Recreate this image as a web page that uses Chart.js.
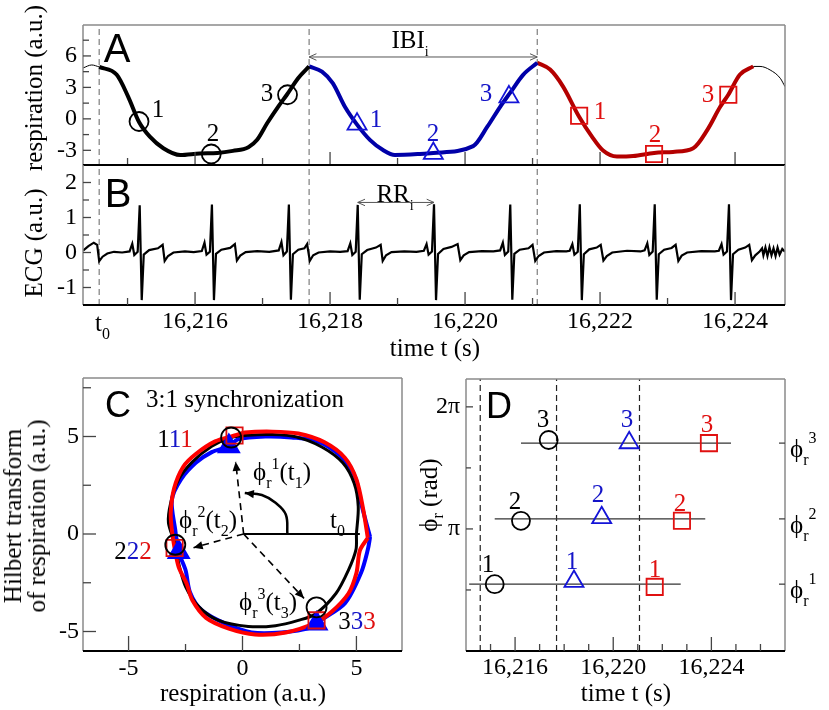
<!DOCTYPE html>
<html>
<head>
<meta charset="utf-8">
<script src="https://cdn.jsdelivr.net/npm/chart.js@4.4.1/dist/chart.umd.min.js"></script>
<style>
  html, body { margin: 0; padding: 0; background: #fff; }
  #page { position: relative; width: 829px; height: 710px; overflow: hidden; }
  canvas { position: absolute; left: 0; top: 0; }
  .t { position: absolute; transform: translate(-50%, -50%); font: 25px 'Liberation Serif', 'DejaVu Serif', serif;
       line-height: 1; white-space: nowrap; color: #000; }
  .l { transform: translate(0, -50%); }
  .v { transform: translate(-50%, -50%) rotate(-90deg); text-align: center; }
  .p { font: 40px 'Liberation Sans', Arial, sans-serif; }
  .p2 { font: 36px 'Liberation Sans', Arial, sans-serif; }
  .sub { font-size: 16px; position: relative; top: 8px; }
  .sup { font-size: 16px; position: relative; top: -11px; }
  .bl { color: #1414c8; }
  .rd { color: #e01010; }
</style>
</head>
<body>
<div id="page">
  <canvas id="chartA" width="829" height="710"></canvas>
  <canvas id="chartB" width="829" height="710"></canvas>
  <canvas id="chartC" width="829" height="710"></canvas>
  <canvas id="chartD" width="829" height="710"></canvas>

  <!-- A / B -->
  <div class="t v" style="left:33px;top:88px">respiration (a.u.)</div>
  <div class="t v" style="left:33px;top:243px">ECG (a.u.)</div>
  <div class="t p" style="left:117px;top:48px">A</div>
  <div class="t p" style="left:118px;top:193px">B</div>
  <div class="t" style="left:410px;top:39px">IBI<span class="sub" style="font-size:14px">i</span></div>
  <div class="t" style="left:395px;top:193px">RR<span class="sub" style="font-size:14px">i</span></div>
  <div class="t" style="left:158px;top:108px">1</div>
  <div class="t" style="left:213px;top:132px">2</div>
  <div class="t" style="left:267px;top:92px">3</div>
  <div class="t bl" style="left:376px;top:118px">1</div>
  <div class="t bl" style="left:433px;top:132px">2</div>
  <div class="t bl" style="left:486px;top:92px">3</div>
  <div class="t rd" style="left:600px;top:110px">1</div>
  <div class="t rd" style="left:655px;top:133px">2</div>
  <div class="t rd" style="left:708px;top:93px">3</div>
  <div class="t l" style="left:95px;top:322px">t<span class="sub">0</span></div>
  <div class="t" style="left:435px;top:347px">time t (s)</div>

  <!-- C -->
  <div class="t p2" style="left:118px;top:405px">C</div>
  <div class="t" style="left:245px;top:398px">3:1 synchronization</div>
  <div class="t" style="left:175px;top:438px">1<span class="bl">1</span><span class="rd">1</span></div>
  <div class="t" style="left:133px;top:550px">2<span class="bl">2</span><span class="rd">2</span></div>
  <div class="t" style="left:357px;top:620px">3<span class="bl">3</span><span class="rd">3</span></div>
  <div class="t l" style="left:253px;top:471px">ϕ<span class="sub">r</span><span class="sup">1</span>(t<span class="sub">1</span>)</div>
  <div class="t l" style="left:179px;top:519px">ϕ<span class="sub">r</span><span class="sup">2</span>(t<span class="sub">2</span>)</div>
  <div class="t l" style="left:239px;top:601px">ϕ<span class="sub">r</span><span class="sup">3</span>(t<span class="sub">3</span>)</div>
  <div class="t l" style="left:330px;top:519px">t<span class="sub">0</span></div>
  <div class="t" style="left:243px;top:692px">respiration (a.u.)</div>
  <div class="t v" style="left:25px;top:516px;line-height:24px">Hilbert transform<br>of respiration (a.u.)</div>

  <!-- D -->
  <div class="t p2" style="left:499px;top:406px">D</div>
  <div class="t" style="left:488px;top:563px">1</div>
  <div class="t" style="left:515px;top:500px">2</div>
  <div class="t" style="left:543px;top:418px">3</div>
  <div class="t bl" style="left:572px;top:560px">1</div>
  <div class="t bl" style="left:598px;top:493px">2</div>
  <div class="t bl" style="left:627px;top:418px">3</div>
  <div class="t rd" style="left:655px;top:568px">1</div>
  <div class="t rd" style="left:680px;top:502px">2</div>
  <div class="t rd" style="left:707px;top:423px">3</div>
  <div class="t l" style="left:790px;top:448px">ϕ<span class="sub">r</span><span class="sup" style="top:-14px">3</span></div>
  <div class="t l" style="left:790px;top:524px">ϕ<span class="sub">r</span><span class="sup" style="top:-14px">2</span></div>
  <div class="t l" style="left:790px;top:589px">ϕ<span class="sub">r</span><span class="sup" style="top:-14px">1</span></div>
  <div class="t v" style="left:428px;top:495px">ϕ<span class="sub" style="top:6px">r</span> (rad)</div>
  <div class="t" style="left:626px;top:692px">time t (s)</div>
</div>

<script>
// ── data: respiration (panel A) ─────────────────────────
const cycleStartT = [16214.58, 16217.69, 16221.07];

const respPreT  = [16214.34, 16214.47, 16214.58];
const respPreV  = [4.85, 5.14, 4.95];
const resp1T = [16214.58, 16214.84, 16215.01, 16215.17, 16215.33, 16215.53, 16215.78, 16216.07, 16216.33,
                16216.56, 16216.79, 16216.92, 16217.07, 16217.23, 16217.36, 16217.53, 16217.69];
const resp1V = [4.95, 4.2, 2.1, -0.3, -1.7, -2.8, -3.45, -3.3, -3.25, -3.05, -2.7, -2.0, -0.4, 1.15, 2.3, 3.9, 5.0];
const resp2T = [16217.69, 16217.88, 16218.04, 16218.22, 16218.40, 16218.59, 16218.79, 16218.96, 16219.33,
                16219.53, 16220.12, 16220.33, 16220.52, 16220.67, 16220.86, 16221.07];
const resp2V = [5.0, 4.5, 3.4, 1.15, -0.55, -2.0, -3.0, -3.45, -3.35, -3.25, -2.6, -0.75, 1.15, 2.5, 4.2, 5.35];
const resp3T = [16221.07, 16221.26, 16221.45, 16221.69, 16221.88, 16222.04, 16222.25, 16222.49, 16222.80,
                16223.08, 16223.38, 16223.59, 16223.78, 16223.90, 16224.07, 16224.27];
const resp3V = [5.35, 4.7, 3.1, 0.2, -1.7, -3.0, -3.6, -3.55, -3.25, -3.15, -2.8, -1.05, 1.15, 2.3, 4.2, 5.0];
const respPostT = [16224.27, 16224.37, 16224.52, 16224.67, 16224.74];
const respPostV = [5.0, 5.0, 4.66, 3.87, 3.07];

// marker times (R peaks) and their respiration values
const circleT = [16215.17, 16216.24, 16217.37];
const triT    = [16218.40, 16219.53, 16220.65];
const squareT = [16221.69, 16222.80, 16223.90];
const circleResp = [-0.25, -3.35, 2.3];
const triResp    = [-0.5, -3.3, 2.1];
const squareResp = [0.3, -3.35, 2.3];

// ── data: ECG (panel B) ─────────────────────────────────
const ecgT = [
  16214.34, 16214.42, 16214.50, 16214.55, 16214.58, 16214.63, 16214.70, 16214.80, 16214.92,
  16215.03, 16215.07, 16215.10, 16215.15, 16215.18, 16215.21, 16215.24, 16215.32, 16215.45, 16215.52, 16215.55, 16215.60, 16215.68, 16215.85, 16215.98,
  16216.10, 16216.14, 16216.17, 16216.22, 16216.25, 16216.28, 16216.31, 16216.39, 16216.52, 16216.59, 16216.62, 16216.67, 16216.75, 16216.92, 16217.10,
  16217.24, 16217.28, 16217.31, 16217.36, 16217.39, 16217.42, 16217.45, 16217.53, 16217.62, 16217.66, 16217.70, 16217.75, 16217.83, 16218.00, 16218.15,
  16218.26, 16218.30, 16218.33, 16218.38, 16218.41, 16218.44, 16218.47, 16218.55, 16218.68, 16218.75, 16218.78, 16218.83, 16218.91, 16219.10, 16219.28,
  16219.39, 16219.43, 16219.46, 16219.51, 16219.54, 16219.57, 16219.60, 16219.68, 16219.80, 16219.89, 16219.93, 16219.98, 16220.06, 16220.25, 16220.42,
  16220.52, 16220.56, 16220.59, 16220.64, 16220.67, 16220.70, 16220.73, 16220.81, 16220.94, 16221.00, 16221.04, 16221.09, 16221.17, 16221.35, 16221.50,
  16221.55, 16221.59, 16221.62, 16221.67, 16221.70, 16221.73, 16221.76, 16221.84, 16221.95, 16222.01, 16222.05, 16222.10, 16222.18, 16222.40, 16222.60,
  16222.66, 16222.70, 16222.73, 16222.78, 16222.81, 16222.84, 16222.87, 16222.95, 16223.06, 16223.12, 16223.16, 16223.21, 16223.29, 16223.50, 16223.70,
  16223.76, 16223.80, 16223.83, 16223.88, 16223.91, 16223.94, 16223.97, 16224.05, 16224.15, 16224.21, 16224.25, 16224.30, 16224.36,
  16224.40, 16224.42, 16224.45, 16224.48, 16224.51, 16224.54, 16224.57, 16224.60, 16224.63, 16224.66, 16224.70, 16224.74
];
const ecgV = [
  0.05, 0.18, 0.28, 0.22, -0.25, -0.12, -0.03, 0.02, 0.00,
  0.03, 0.25, -0.07, 0.02, 1.35, -1.36, -0.06, 0.07, 0.12, 0.22, -0.24, -0.10, 0.00, 0.03, 0.01,
  0.04, 0.28, -0.06, 0.02, 1.37, -1.36, -0.04, 0.08, 0.13, 0.24, -0.23, -0.09, 0.01, 0.04, 0.02,
  0.06, 0.30, -0.08, 0.03, 1.37, -1.35, -0.05, 0.08, 0.12, 0.24, -0.24, -0.08, 0.00, 0.03, 0.02,
  0.04, 0.26, -0.07, 0.02, 1.36, -1.35, -0.05, 0.07, 0.14, 0.22, -0.24, -0.08, 0.01, 0.03, 0.02,
  0.05, 0.24, -0.06, 0.03, 1.38, -1.36, -0.04, 0.10, 0.16, 0.24, -0.22, -0.08, 0.01, 0.04, 0.03,
  0.06, 0.28, -0.07, 0.03, 1.37, -1.35, -0.04, 0.08, 0.12, 0.22, -0.24, -0.10, 0.00, 0.04, 0.03,
  0.05, 0.24, -0.06, 0.02, 1.38, -1.36, -0.05, 0.09, 0.14, 0.22, -0.23, -0.10, 0.00, 0.05, 0.03,
  0.06, 0.26, -0.07, 0.03, 1.38, -1.35, -0.05, 0.08, 0.13, 0.22, -0.24, -0.09, 0.00, 0.04, 0.03,
  0.05, 0.24, -0.06, 0.03, 1.38, -1.36, -0.05, 0.08, 0.14, 0.22, -0.22, -0.08, 0.02,
  0.12, -0.08, 0.14, -0.10, 0.15, -0.08, 0.12, -0.10, 0.14, -0.06, 0.10, 0.02
];
const ibiArrowT = [16217.69, 16221.07];
const ibiArrowV = 5.9;
const rrArrowT  = [16218.41, 16219.54];
const rrArrowV  = 1.43;

// ── data: Hilbert loops (panel C) ───────────────────────
const loopBlackX = [5.0, 5.08, 4.9, 4.4, 3.5, 2.35, 1.27, 0.26, -0.5, -1.35, -2.2, -2.8, -3.15, -3.25,
                    -2.95, -2.8, -2.5, -1.9, -1.05, 0.25, 1.45, 2.45, 3.2, 4.1, 4.65, 4.98, 5.0];
const loopBlackY = [0, 1.4, 2.6, 3.65, 4.45, 4.98, 5.1, 5.07, 4.95, 4.5, 3.7, 2.8, 1.6, 0.57,
                    -0.55, -1.5, -2.7, -3.75, -4.43, -4.74, -4.7, -4.43, -4.1, -3.05, -1.85, -0.8, 0];
const loopBlueX = [5.6, 5.2, 4.95, 4.35, 3.3, 2.15, 1.0, -0.2, -0.6, -1.35, -2.05, -2.7, -3.1, -2.95,
                   -2.8, -2.5, -2.3, -1.8, -0.75, 0.4, 1.7, 3.0, 3.4, 4.5, 5.2, 5.5, 5.6];
const loopBlueY = [-0.15, 1.6, 2.9, 3.95, 4.75, 4.95, 5.0, 4.85, 4.5, 4.2, 3.65, 2.8, 1.75, 0.2,
                   -0.93, -1.85, -3.0, -3.9, -4.6, -5.05, -5.05, -4.8, -4.45, -3.55, -2.0, -0.8, -0.15];
const loopRedX = [5.5, 5.3, 5.0, 4.5, 3.6, 2.45, 1.3, 0.1, -0.35, -1.2, -2.05, -2.6, -3.0, -3.15, -3.1,
                  -2.98, -2.8, -2.45, -2.2, -1.6, -0.6, 0.55, 1.9, 3.2, 3.9, 4.65, 5.0, 5.15, 5.5];
const loopRedY = [-0.2, 1.25, 2.8, 3.9, 4.7, 5.15, 5.25, 5.2, 5.05, 4.75, 4.1, 3.45, 2.35, 1.1, 0.2,
                  -0.72, -1.7, -2.55, -3.4, -4.3, -4.85, -5.15, -5.05, -4.55, -4.0, -3.05, -2.0, -0.85, -0.2];
const circleHx = [-0.5, -2.95, 3.25],  circleHy = [4.95, -0.55, -3.76];
const triHx    = [-0.6, -2.8, 3.25],   triHy    = [4.5, -0.93, -4.6];
const squareHx = [-0.35, -2.98, 3.25], squareHy = [5.05, -0.72, -4.43];
const hilbOrigin = [0.05, 0];
const phaseArrowX = [-0.3, -2.15, 2.7];
const phaseArrowY = [3.7, -0.7, -3.3];
const t0RayEnd = 5.15;
const arcX = [1.97, 1.9, 1.45, 0.85, 0.1];
const arcY = [0, 1.0, 1.6, 2.0, 2.1];

// ── data: phases (panel D) ──────────────────────────────
const linePhase   = [1.72, 3.40, 5.35];
const lineStartT  = [16214.13, 16215.17, 16216.24];
const lineEndT    = [16222.75, 16223.75, 16224.80];
const circlePhase = [1.72, 3.35, 5.43];
const triPhase    = [1.79, 3.43, 5.36];
const squarePhase = [1.65, 3.35, 5.35];

// ── ticks ───────────────────────────────────────────────
const timeMajorAB  = [16216, 16218, 16220, 16222, 16224];
const timeMinorAB  = [16215, 16217, 16219, 16221, 16223];
const timeLabelsAB = ['16,216', '16,218', '16,220', '16,222', '16,224'];
const respMajor = [-3, 0, 3, 6],  respMinor = [-1.5, 1.5, 4.5, 7.5];
const ecgMajor  = [-1, 0, 1, 2],  ecgMinor  = [-0.5, 0.5, 1.5];
const hilbMajor = [-5, 0, 5], hilbMinorX = [-2.5, 2.5], hilbMinorY = [-2.5, 2.5, 7.5];
const timeMajorD  = [16216, 16220, 16224];
const timeMinorD  = [16215, 16217, 16218, 16219, 16221, 16222, 16223, 16225, 16226];
const timeLabelsD = ['16,216', '16,220', '16,224'];
const phaseMajor = [Math.PI, 2 * Math.PI], phaseLabels = ['π', '2π'];
const phaseMinor = [Math.PI / 2, 3 * Math.PI / 2];

// ── helpers ─────────────────────────────────────────────
const SERIF = "'Liberation Serif', 'Times New Roman', serif";
const BLUE_LINE = '#0000a8', RED_LINE = '#b40000';
const BLUE_MARK = '#1414d8', RED_MARK = '#e01010';
const mono = { cubicInterpolationMode: 'monotone' };

const pts = (xs, ys) => xs.map((x, i) => ({ x, y: ys[i] }));
const lab = (vals, texts) => v => { const i = vals.indexOf(v); return i < 0 ? '' : texts[i]; };

function line(data, color, width, extra) {
  return Object.assign({ data, showLine: true, borderColor: color, borderWidth: width,
                         pointRadius: 0, fill: false, tension: 0 }, extra || {});
}
function marks(data, style, color, r, fillColor) {
  return { data, showLine: false, pointStyle: style, pointRadius: r, pointBorderWidth: 1.8,
           pointBorderColor: color, pointBackgroundColor: fillColor || 'rgba(0,0,0,0)',
           borderColor: color, backgroundColor: fillColor || 'rgba(0,0,0,0)' };
}
function vlines(ts, y0, y1, color, width) {
  return ts.map(t => line([{ x: t, y: y0 }, { x: t, y: y1 }], color, width, { borderDash: [6, 4] }));
}

function axis(min, max, tickVals, labelOf, size, pos, pad) {
  return {
    type: 'linear', position: pos, min, max,
    grid: { display: false, drawTicks: false }, border: { display: false },
    afterBuildTicks: s => { s.ticks = tickVals.map(v => ({ value: v })); },
    afterFit: s => { if (pos === 'bottom') s.height = size; else s.width = size; },
    ticks: { autoSkip: false, maxRotation: 0, padding: pad, color: '#000',
             font: { family: SERIF, size: 24 }, callback: v => labelOf(v) }
  };
}

function options(padding, scales) {
  return {
    responsive: false, animation: false, events: [],
    layout: { padding },
    plugins: { legend: { display: false }, tooltip: { enabled: false } },
    scales
  };
}

function head(ctx, from, to, size, filled) {
  const ang = Math.atan2(to[1] - from[1], to[0] - from[0]);
  ctx.beginPath();
  ctx.moveTo(to[0] - size * Math.cos(ang - 0.42), to[1] - size * Math.sin(ang - 0.42));
  ctx.lineTo(to[0], to[1]);
  ctx.lineTo(to[0] - size * Math.cos(ang + 0.42), to[1] - size * Math.sin(ang + 0.42));
  if (filled) { ctx.closePath(); ctx.fill(); } else ctx.stroke();
}

function arrow(ctx, scales, ar) {
  const p = ar.x.map((v, i) => [scales.x.getPixelForValue(v), scales.y.getPixelForValue(ar.y[i])]);
  ctx.strokeStyle = ar.color; ctx.fillStyle = ar.color; ctx.lineWidth = ar.width;
  if (ar.line !== false) {
    ctx.setLineDash(ar.dash || []);
    ctx.beginPath(); ctx.moveTo(p[0][0], p[0][1]); ctx.lineTo(p[1][0], p[1][1]); ctx.stroke();
    ctx.setLineDash([]);
  }
  if (ar.head) head(ctx, p[0], p[1], ar.size, ar.filled);
  if (ar.head === 'both') head(ctx, p[1], p[0], ar.size, ar.filled);
}

// frame, inward ticks and arrows
function decor(cfg) {
  return {
    id: 'decor',
    afterDraw(chart) {
      const { ctx, chartArea: a, scales } = chart;
      const edge = Object.assign({ top: '#8a8a8a', left: '#8a8a8a', right: '#8a8a8a', bottom: '#000' }, cfg.edges);
      const seg = (x0, y0, x1, y1, c, w) => {
        ctx.strokeStyle = c; ctx.lineWidth = w;
        ctx.beginPath(); ctx.moveTo(x0, y0); ctx.lineTo(x1, y1); ctx.stroke();
      };
      ctx.save();
      seg(a.left, a.top, a.right, a.top, edge.top, edge.top === '#000' ? 2 : 1.5);
      seg(a.left, a.top, a.left, a.bottom, edge.left, 1.5);
      seg(a.right, a.top, a.right, a.bottom, edge.right, 1.5);
      seg(a.left, a.bottom, a.right, a.bottom, edge.bottom, 2);

      cfg.ticks.forEach(tk => {
        const s = scales[tk.scale];
        const draw = (v, len) => {
          const p = s.getPixelForValue(v);
          if (tk.side === 'bottom') seg(p, a.bottom, p, a.bottom - len, '#444', 1.3);
          else if (tk.side === 'left') seg(a.left, p, a.left + len, p, '#444', 1.3);
          else seg(a.right, p, a.right - len, p, '#444', 1.3);
        };
        tk.major.forEach(v => draw(v, tk.len[0]));
        (tk.minor || []).forEach(v => draw(v, tk.len[1]));
      });
      (cfg.arrows || []).forEach(ar => arrow(ctx, scales, ar));
      ctx.restore();
    }
  };
}

// ── A: respiration ──────────────────────────────────────
new Chart(document.getElementById('chartA'), {
  type: 'scatter',
  data: { datasets: [
    marks(pts(circleT, circleResp), 'circle', '#000', 9.5),
    marks(pts(triT, triResp), 'triangle', BLUE_MARK, 11),
    marks(pts(squareT, squareResp), 'rect', RED_MARK, 11.5),
    line(pts(resp1T, resp1V), '#000', 4, mono),
    line(pts(resp2T, resp2V), BLUE_LINE, 4, mono),
    line(pts(resp3T, resp3V), RED_LINE, 4, mono),
    line(pts(respPreT, respPreV), '#000', 1, mono),
    line(pts(respPostT, respPostV), '#000', 1, mono),
    ...vlines(cycleStartT, -4.4, 8.95, '#888', 1.3)
  ]},
  options: options({ left: 0, top: 25, right: 44, bottom: 0 }, {
    x: axis(16214.34, 16224.74, [...timeMajorAB, ...timeMinorAB], () => '', 545, 'bottom', 0),
    y: axis(-4.4, 8.95, [...respMajor, ...respMinor], lab(respMajor, respMajor.map(String)), 83, 'left', 6)
  }),
  plugins: [decor({
    ticks: [
      { scale: 'x', side: 'bottom', major: timeMajorAB, minor: timeMinorAB, len: [13, 7] },
      { scale: 'y', side: 'left', major: respMajor, minor: respMinor, len: [8, 6] }
    ],
    arrows: [{ x: ibiArrowT, y: [ibiArrowV, ibiArrowV], color: '#555', width: 1, head: 'both', size: 8 }]
  })]
});

// ── B: ECG ──────────────────────────────────────────────
new Chart(document.getElementById('chartB'), {
  type: 'scatter',
  data: { datasets: [
    line(pts(ecgT, ecgV), '#000', 2.2),
    ...vlines(cycleStartT, -1.5, 2.5, '#888', 1.3)
  ]},
  options: options({ left: 0, top: 165, right: 44, bottom: 0 }, {
    x: axis(16214.34, 16224.74, [...timeMajorAB, ...timeMinorAB], lab(timeMajorAB, timeLabelsAB), 405, 'bottom', 2),
    y: axis(-1.5, 2.5, [...ecgMajor, ...ecgMinor], lab(ecgMajor, ecgMajor.map(String)), 83, 'left', 6)
  }),
  plugins: [decor({
    edges: { top: '#000' },
    ticks: [
      { scale: 'x', side: 'bottom', major: timeMajorAB, minor: timeMinorAB, len: [13, 7] },
      { scale: 'y', side: 'left', major: ecgMajor, minor: ecgMinor, len: [8, 6] }
    ],
    arrows: [{ x: rrArrowT, y: [rrArrowV, rrArrowV], color: '#555', width: 1, head: 'both', size: 8 }]
  })]
});

// ── C: Hilbert phase plane ──────────────────────────────
const phaseArrows = phaseArrowX.map((x, i) => ({
  x: [hilbOrigin[0], x], y: [hilbOrigin[1], phaseArrowY[i]],
  color: '#000', width: 1.6, dash: [7, 5], head: 'end', size: 10, filled: true
}));
new Chart(document.getElementById('chartC'), {
  type: 'scatter',
  data: { datasets: [
    marks(pts(circleHx, circleHy), 'circle', '#000', 10),
    marks(pts(squareHx, squareHy), 'rect', RED_MARK, 11.5),
    marks(pts(triHx, triHy), 'triangle', '#0000ff', 12, '#0000ff'),
    line(pts(arcX, arcY), '#000', 2.5, { tension: 0.4 }),
    line(pts(loopRedX, loopRedY), '#ff0000', 4, { tension: 0.3 }),
    line(pts(loopBlackX, loopBlackY), '#000', 3, { tension: 0.3 }),
    line(pts(loopBlueX, loopBlueY), '#0000ff', 4, { tension: 0.3 })
  ]},
  options: options({ left: 23, top: 378, right: 427, bottom: 0 }, {
    x: axis(-7, 7, [...hilbMajor, ...hilbMinorX], lab(hilbMajor, hilbMajor.map(String)), 59, 'bottom', 3),
    y: axis(-6, 8, [...hilbMajor, ...hilbMinorY], lab(hilbMajor, hilbMajor.map(String)), 60, 'left', 4)
  }),
  plugins: [decor({
    ticks: [
      { scale: 'x', side: 'bottom', major: hilbMajor, minor: hilbMinorX, len: [15, 7] },
      { scale: 'y', side: 'left', major: hilbMajor, minor: hilbMinorY, len: [13, 8] }
    ],
    arrows: [
      ...phaseArrows,
      { x: [hilbOrigin[0], t0RayEnd], y: [hilbOrigin[1], 0], color: '#000', width: 2 },
      { x: arcX.slice(-2), y: arcY.slice(-2), color: '#000', width: 2, line: false, head: 'end', size: 10, filled: true }
    ]
  })]
});

// ── D: phases vs time ───────────────────────────────────
new Chart(document.getElementById('chartD'), {
  type: 'scatter',
  data: { datasets: [
    marks(pts(circleT, circlePhase), 'circle', '#000', 9),
    marks(pts(triT, triPhase), 'triangle', BLUE_MARK, 11),
    marks(pts(squareT, squarePhase), 'rect', RED_MARK, 11.5),
    ...linePhase.map((p, i) => line([{ x: lineStartT[i], y: p }, { x: lineEndT[i], y: p }], '#333', 1.2)),
    ...vlines(cycleStartT, 0, 7, '#222', 1.2)
  ]},
  options: options({ left: 406, top: 379, right: 44, bottom: 0 }, {
    x: axis(16214, 16227, [...timeMajorD, ...timeMinorD], lab(timeMajorD, timeLabelsD), 59, 'bottom', 2),
    y: axis(0, 7, [...phaseMajor, ...phaseMinor], lab(phaseMajor, phaseLabels), 60, 'left', 6)
  }),
  plugins: [decor({
    ticks: [
      { scale: 'x', side: 'bottom', major: timeMajorD, minor: timeMinorD, len: [14, 7] },
      { scale: 'y', side: 'left', major: phaseMajor, minor: phaseMinor, len: [7, 5] },
      { scale: 'y', side: 'right', major: linePhase, len: [6] }
    ]
  })]
});
</script>
</body>
</html>
